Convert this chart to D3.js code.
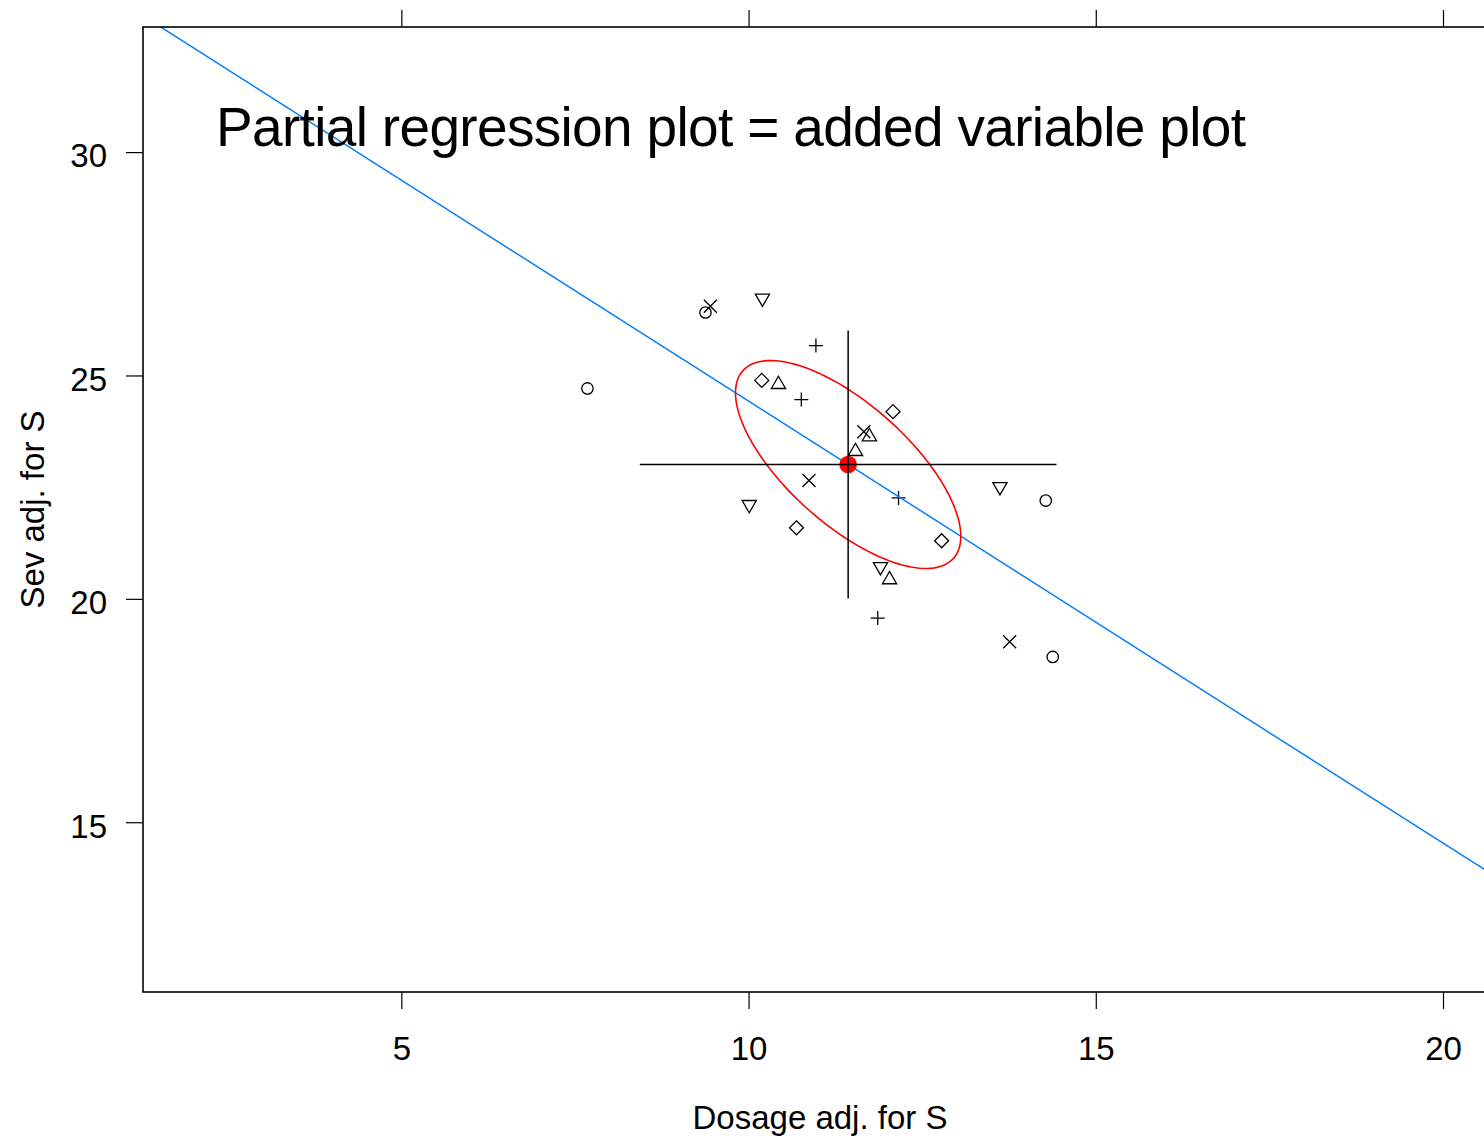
<!DOCTYPE html>
<html><head><meta charset="utf-8">
<script src="https://cdn.jsdelivr.net/npm/d3@7"></script>
<style>body{margin:0;background:#fff;overflow:hidden}</style>
</head><body>
<svg id="chart" width="1484" height="1137"></svg>
<script>
// ---- data ----
const titleText = "Partial regression plot = added variable plot";
const xLabel = "Dosage adj. for S";
const yLabel = "Sev adj. for S";
const xLim = [2, 20];
const yLim = [12, 32];
const xTicks = [5, 10, 15, 20];
const yTicks = [15, 20, 25, 30];
const crossHalf = 3;

const groupShapes = ["circle", "triangleUp", "plus", "cross", "diamond", "triangleDown"];
const dosageCircle   = [9.38, 7.68, 14.28, 14.38];
const sevCircle      = [26.41, 24.71, 22.20, 18.70];
const dosageTriUp    = [10.43, 11.74, 11.54, 12.03];
const sevTriUp       = [24.80, 23.63, 23.30, 20.43];
const dosagePlus     = [10.97, 10.76, 12.16, 11.86];
const sevPlus        = [25.67, 24.46, 22.26, 19.57];
const dosageCross    = [9.45, 11.66, 10.87, 13.76];
const sevCross       = [26.55, 23.74, 22.65, 19.04];
const dosageDiamond  = [10.19, 12.08, 10.69, 12.78];
const sevDiamond     = [24.89, 24.19, 21.59, 21.30];
const dosageTriDown  = [10.20, 10.01, 13.62, 11.90];
const sevTriDown     = [26.73, 22.11, 22.51, 20.72];

const groupX = [dosageCircle, dosageTriUp, dosagePlus, dosageCross, dosageDiamond, dosageTriDown];
const groupY = [sevCircle, sevTriUp, sevPlus, sevCross, sevDiamond, sevTriDown];

(function () {
// ---- build ----
const points = [];
groupShapes.forEach((s, i) => groupX[i].forEach((xv, j) => points.push({shape: s, x: xv, y: groupY[i][j]})));

const font = "'Liberation Sans', Arial, Helvetica, sans-serif";
const svg = d3.select("#chart");
const pl = 143, pr = 1493, pt = 27, pb = 992;
const xPad = (xLim[1] - xLim[0]) * 0.04, yPad = (yLim[1] - yLim[0]) * 0.04;
const x = d3.scaleLinear().domain([xLim[0] - xPad, xLim[1] + xPad]).range([pl, pr]);
const y = d3.scaleLinear().domain([yLim[0] - yPad, yLim[1] + yPad]).range([pb, pt]);

svg.append("defs").append("clipPath").attr("id", "clip")
  .append("rect").attr("x", pl).attr("y", pt).attr("width", pr - pl).attr("height", pb - pt);

// stats
const mx = d3.mean(points, d => d.x), my = d3.mean(points, d => d.y);
const n = points.length;
const sxx = d3.sum(points, d => (d.x - mx) ** 2) / (n - 1);
const syy = d3.sum(points, d => (d.y - my) ** 2) / (n - 1);
const sxy = d3.sum(points, d => (d.x - mx) * (d.y - my)) / (n - 1);
const slope = sxy / sxx, intercept = my - slope * mx;

const plot = svg.append("g").attr("clip-path", "url(#clip)");

// markers
const sym = {
  circle: "M-5.7,0A5.7,5.7 0 1,0 5.7,0A5.7,5.7 0 1,0 -5.7,0Z",
  triangleUp: "M0,-8.2L7.1,4.1L-7.1,4.1Z",
  triangleDown: "M0,8.2L7.1,-4.1L-7.1,-4.1Z",
  plus: "M-7,0H7M0,-7V7",
  cross: "M-6.5,-6.5L6.5,6.5M-6.5,6.5L6.5,-6.5",
  diamond: "M0,-7L7,0L0,7L-7,0Z"
};
plot.selectAll("path.pt").data(points).join("path").attr("class", "pt")
  .attr("d", d => sym[d.shape])
  .attr("transform", d => `translate(${x(d.x)},${y(d.y)})`)
  .attr("fill", "none").attr("stroke", "#000").attr("stroke-width", 1.3);

// regression line
const xd = x.domain();
plot.append("line").attr("x1", x(xd[0])).attr("y1", y(intercept + slope * xd[0]))
  .attr("x2", x(xd[1])).attr("y2", y(intercept + slope * xd[1]))
  .attr("stroke", "#0080ff").attr("stroke-width", 1.5);

// data ellipse (radius 1)
const a = Math.sqrt(sxx), b = sxy / a, c = Math.sqrt(syy - b * b);
const ell = d3.range(0, 360, 2).map(t => {
  const r = t * Math.PI / 180;
  return [mx + a * Math.cos(r), my + b * Math.cos(r) + c * Math.sin(r)];
});
plot.append("path").datum(ell)
  .attr("d", d3.line().x(d => x(d[0])).y(d => y(d[1])).curve(d3.curveLinearClosed))
  .attr("fill", "none").attr("stroke", "#ff0000").attr("stroke-width", 1.6);

// mean point
plot.append("circle").attr("cx", x(mx)).attr("cy", y(my)).attr("r", 8.8).attr("fill", "#ff0000");

// cross lines
plot.append("line").attr("x1", x(mx - crossHalf)).attr("x2", x(mx + crossHalf))
  .attr("y1", y(my)).attr("y2", y(my)).attr("stroke", "#000").attr("stroke-width", 1.5);
plot.append("line").attr("x1", x(mx)).attr("x2", x(mx))
  .attr("y1", y(my - crossHalf)).attr("y2", y(my + crossHalf)).attr("stroke", "#000").attr("stroke-width", 1.5);

// frame
svg.append("rect").attr("x", pl).attr("y", pt).attr("width", pr - pl).attr("height", pb - pt)
  .attr("fill", "none").attr("stroke", "#000").attr("stroke-width", 1.6);

// axes
const tickLen = 17;
const axB = svg.append("g").attr("transform", `translate(0,${pb})`)
  .call(d3.axisBottom(x).tickValues(xTicks).tickSize(tickLen).tickPadding(28).tickFormat(d3.format("d")));
const axT = svg.append("g").attr("transform", `translate(0,${pt})`)
  .call(d3.axisTop(x).tickValues(xTicks).tickSize(tickLen).tickFormat(""));
const axL = svg.append("g").attr("transform", `translate(${pl},0)`)
  .call(d3.axisLeft(y).tickValues(yTicks).tickSize(tickLen).tickPadding(19).tickFormat(d3.format("d")));
[axB, axT, axL].forEach(g => {
  g.select(".domain").remove();
  g.selectAll(".tick line").attr("stroke", "#000").attr("stroke-width", 1.2);
  g.selectAll("text").attr("font-family", font).attr("font-size", 33).attr("fill", "#000");
});
axL.selectAll("text").attr("dy", "0.45em");

// labels
svg.append("text").attr("x", 216).attr("y", 146).attr("font-family", font).attr("font-size", 55)
  .attr("textLength", 1030).attr("lengthAdjust", "spacing")
  .attr("fill", "#000").text(titleText);
svg.append("text").attr("x", (pl + pr) / 2 + 2).attr("y", 1129).attr("text-anchor", "middle")
  .attr("font-family", font).attr("font-size", 33).attr("fill", "#000").text(xLabel);
svg.append("text").attr("transform", `translate(44,${(pt + pb) / 2}) rotate(-90)`).attr("text-anchor", "middle")
  .attr("font-family", font).attr("font-size", 33).attr("fill", "#000").text(yLabel);
})();
</script>
</body></html>
